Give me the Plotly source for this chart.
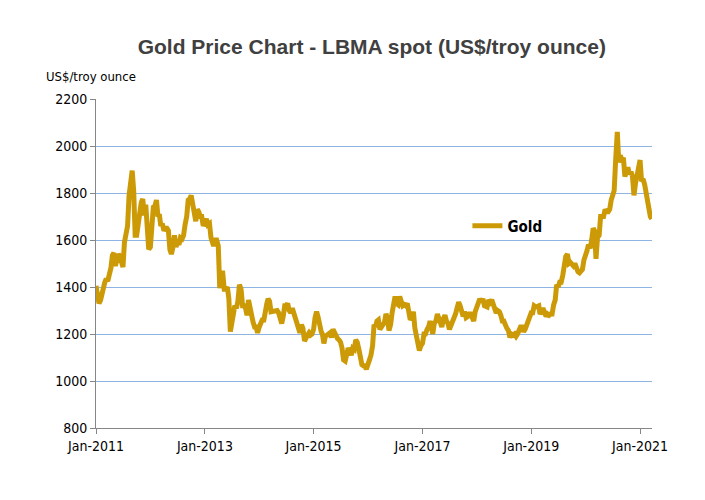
import pandas as pd
import plotly.graph_objects as go

# ~10-day sampled LBMA gold prices (1st, 11th, 21st of each month), US$/troy ounce
gold_2011 = [1405, 1365, 1330, 1345, 1375, 1410, 1420, 1435, 1425, 1455, 1480, 1535,
             1545, 1490, 1515, 1540, 1530, 1505, 1485, 1590, 1625, 1660, 1790, 1860,
             1895, 1810, 1620, 1620, 1680, 1710, 1760, 1775, 1705, 1750, 1650, 1560]
gold_2012 = [1570, 1650, 1740, 1745, 1770, 1700, 1710, 1660, 1670, 1640, 1650, 1650,
             1640, 1560, 1540, 1570, 1620, 1570, 1590, 1580, 1610, 1605, 1620, 1665,
             1700, 1770, 1775, 1790, 1745, 1710, 1680, 1730, 1720, 1700, 1700, 1660]
gold_2013 = [1680, 1690, 1665, 1670, 1610, 1580, 1575, 1600, 1600, 1575, 1395, 1460,
             1460, 1390, 1390, 1400, 1350, 1210, 1240, 1290, 1320, 1310, 1340, 1410,
             1390, 1320, 1320, 1310, 1280, 1345, 1320, 1280, 1250, 1230, 1230, 1205]
gold_2014 = [1230, 1250, 1260, 1260, 1310, 1330, 1350, 1340, 1295, 1295, 1300, 1295,
             1300, 1290, 1255, 1245, 1275, 1320, 1320, 1330, 1300, 1290, 1310, 1290,
             1270, 1235, 1220, 1205, 1240, 1225, 1170, 1190, 1195, 1205, 1195, 1200]
gold_2015 = [1220, 1270, 1295, 1270, 1230, 1210, 1200, 1160, 1190, 1200, 1200, 1205,
             1185, 1220, 1205, 1185, 1180, 1175, 1165, 1140, 1090, 1085, 1115, 1140,
             1125, 1110, 1140, 1135, 1175, 1165, 1135, 1085, 1070, 1065, 1065, 1050]
gold_2016 = [1080, 1090, 1110, 1150, 1240, 1230, 1255, 1260, 1220, 1230, 1240, 1250,
             1285, 1270, 1215, 1240, 1290, 1320, 1360, 1330, 1325, 1360, 1345, 1320,
             1325, 1320, 1330, 1270, 1260, 1270, 1295, 1225, 1190, 1170, 1130, 1150]
gold_2017 = [1160, 1200, 1200, 1220, 1230, 1255, 1235, 1200, 1245, 1255, 1285, 1265,
             1240, 1230, 1265, 1280, 1255, 1245, 1220, 1235, 1260, 1265, 1285, 1310,
             1335, 1320, 1290, 1275, 1295, 1270, 1275, 1285, 1285, 1265, 1255, 1295]
gold_2018 = [1315, 1330, 1350, 1335, 1350, 1320, 1320, 1315, 1345, 1335, 1345, 1325,
             1310, 1290, 1300, 1295, 1280, 1255, 1255, 1230, 1225, 1215, 1185, 1200,
             1195, 1200, 1190, 1200, 1225, 1230, 1230, 1210, 1220, 1240, 1250, 1280]
gold_2019 = [1290, 1290, 1320, 1315, 1320, 1320, 1285, 1300, 1310, 1290, 1275, 1285,
             1280, 1285, 1285, 1325, 1345, 1410, 1400, 1420, 1420, 1450, 1510, 1530,
             1540, 1500, 1505, 1500, 1490, 1500, 1480, 1465, 1460, 1465, 1475, 1515]
gold_2020 = [1550, 1555, 1580, 1565, 1600, 1650, 1640, 1520, 1610, 1620, 1700, 1700,
             1700, 1730, 1720, 1720, 1730, 1770, 1790, 1810, 1940, 2060, 1930, 1960,
             1940, 1950, 1870, 1900, 1910, 1880, 1890, 1870, 1790, 1840, 1880, 1890]
gold_2021 = [1940, 1850, 1860, 1835, 1790, 1770, 1720, 1700, 1690]

gold = (gold_2011 + gold_2012 + gold_2013 + gold_2014 + gold_2015 + gold_2016 +
        gold_2017 + gold_2018 + gold_2019 + gold_2020 + gold_2021)

months = pd.date_range("2011-01-01", "2021-03-01", freq="MS")
days = [0, 10, 20]
dates = [m + pd.Timedelta(days=d) for m in months for d in days][:len(gold)]

tick_dates = ["2011-01-01", "2013-01-01", "2015-01-01", "2017-01-01", "2019-01-01", "2021-01-01"]
tick_labels = ["Jan-2011", "Jan-2013", "Jan-2015", "Jan-2017", "Jan-2019", "Jan-2021"]
y_ticks = [800, 1000, 1200, 1400, 1600, 1800, 2000, 2200]

narrow = "Liberation Sans Narrow, DejaVu Sans Condensed, sans-serif"
tick_font = dict(family=narrow, size=14, color="#000000")

fig = go.Figure()
fig.add_trace(go.Scatter(x=dates, y=gold, mode="lines", name="<b>Gold</b>",
                         line=dict(color="#CC9A06", width=5)))

fig.update_layout(
    width=697, height=492,
    margin=dict(l=88, r=53, t=91, b=72),
    paper_bgcolor="white", plot_bgcolor="white",
    title=dict(text="<b>Gold Price Chart - LBMA spot (US$/troy ounce)</b>",
               x=0.522, xanchor="center", y=0.922, yanchor="middle",
               font=dict(family="Liberation Sans, Arial, sans-serif", size=21, color="#404040")),
    showlegend=True,
    legend=dict(x=0.668, y=0.614, xanchor="left", yanchor="middle",
                bgcolor="rgba(0,0,0,0)",
                font=dict(family=narrow, size=15, color="#000000")),
    annotations=[dict(text="US$/troy ounce", xref="paper", yref="paper",
                      x=-0.093, y=1.067, xanchor="left", yanchor="middle", showarrow=False,
                      font=dict(family=narrow, size=13, color="#000000"))],
)

fig.update_xaxes(range=["2011-01-01", "2021-03-22"], tickvals=tick_dates, ticktext=tick_labels,
                 showgrid=False, showline=True, linecolor="#868686", linewidth=1,
                 ticks="outside", ticklen=5, tickcolor="#868686", tickfont=tick_font,
                 zeroline=False)
fig.update_yaxes(range=[800, 2200], tickvals=y_ticks, showgrid=True, gridcolor="#8EB4E3", gridwidth=1,
                 showline=True, linecolor="#868686", linewidth=1,
                 ticks="outside", ticklen=5, tickcolor="#868686", tickfont=tick_font,
                 zeroline=False)

fig.write_html("out.html")
